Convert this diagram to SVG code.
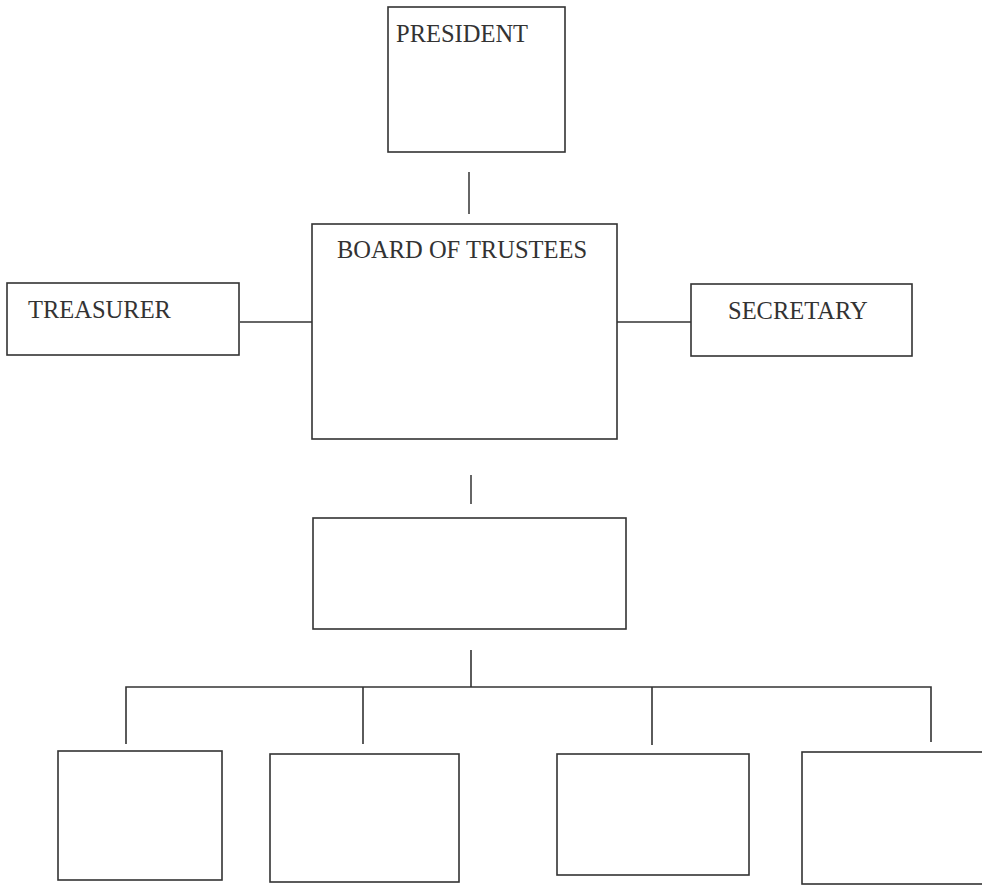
<svg xmlns="http://www.w3.org/2000/svg" width="982" height="886" viewBox="0 0 982 886">
<style>
.box{fill:#fff;stroke:#333;stroke-width:1.6}
.lbl{font-family:"Liberation Serif","Times New Roman",serif;font-size:24.5px;fill:#333}
.con{fill:none;stroke:#333;stroke-width:1.6}
.tick{fill:none;stroke:#666;stroke-width:2}
</style>
<rect width="982" height="886" fill="#fff"/>
<g id="connectors">
<line class="tick" x1="469" y1="172" x2="469" y2="214"/>
<line class="con" x1="240" y1="322" x2="312" y2="322"/>
<line class="con" x1="617" y1="322" x2="691" y2="322"/>
<line class="tick" x1="471" y1="475" x2="471" y2="504"/>
<line class="con" x1="471" y1="650" x2="471" y2="687"/>
<polyline class="con" points="126,744 126,687 931,687 931,742"/>
<line class="con" x1="363" y1="687" x2="363" y2="744"/>
<line class="con" x1="652" y1="687" x2="652" y2="745"/>
</g>
<g id="president">
<rect class="box" x="388" y="7" width="177" height="145"/>
<text class="lbl" x="396" y="42">PRESIDENT</text>
</g>
<g id="board">
<rect class="box" x="312" y="224" width="305" height="215"/>
<text class="lbl" x="337" y="258">BOARD OF TRUSTEES</text>
</g>
<g id="treasurer">
<rect class="box" x="7" y="283" width="232" height="72"/>
<text class="lbl" x="28" y="318">TREASURER</text>
</g>
<g id="secretary">
<rect class="box" x="691" y="284" width="221" height="72"/>
<text class="lbl" x="728" y="319">SECRETARY</text>
</g>
<g id="middle">
<rect class="box" x="313" y="518" width="313" height="111"/>
</g>
<g id="unit1">
<rect class="box" x="58" y="751" width="164" height="129"/>
</g>
<g id="unit2">
<rect class="box" x="270" y="754" width="189" height="128"/>
</g>
<g id="unit3">
<rect class="box" x="557" y="754" width="192" height="121"/>
</g>
<g id="unit4">
<rect class="box" x="802" y="752" width="190" height="132"/>
</g>
</svg>
